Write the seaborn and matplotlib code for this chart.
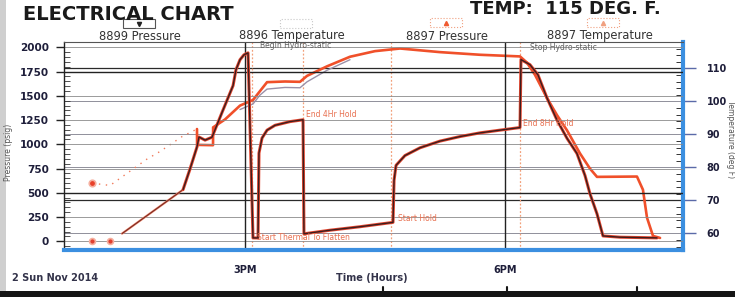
import matplotlib
matplotlib.use("Agg")
import matplotlib.pyplot as plt
import matplotlib.patheffects as pe
from matplotlib.patches import Rectangle
from matplotlib.lines import Line2D
from matplotlib.ticker import FixedLocator, MultipleLocator
import seaborn as sns

# ---------------- data ----------------
series_names = ["8899 Pressure", "8896 Temperature", "8897 Pressure", "8897 Temperature"]

# isolated start readings of the pressure recorder (hours, psi)
p_start_time = [13.235, 13.443]
p_start_psi = [0, 0]

pressure_time = [13.581, 14.285, 14.366, 14.446, 14.469, 14.539, 14.619, 14.735, 14.862, 14.896,
                 14.942, 14.988, 15.035, 15.092, 15.150, 15.161, 15.196, 15.254, 15.346, 15.519,
                 15.669, 15.680, 15.980, 16.326, 16.707, 16.719, 16.742, 16.845, 17.018, 17.249,
                 17.480, 17.711, 17.941, 18.172, 18.183, 18.287, 18.379, 18.483, 18.599, 18.714,
                 18.829, 18.922, 18.979, 19.060, 19.129, 19.325, 19.752]
pressure_psi = [79, 532, 747, 973, 1075, 1043, 1073, 1329, 1605, 1770,
                1872, 1923, 1943, 35, 34, 910, 1064, 1146, 1196, 1234,
                1253, 77, 114, 150, 195, 628, 783, 884, 964, 1033,
                1080, 1118, 1146, 1173, 1874, 1821, 1716, 1478, 1249, 1062,
                905, 677, 490, 283, 55, 42, 35]

# temperature, dotted lead-in (hours, deg F)
temp_lead_time = [13.235, 13.443, 13.870, 14.020, 14.273, 14.446]
temp_lead_f = [75.2, 74.5, 82.5, 84.8, 89.3, 91.6]

temp_time = [14.446, 14.447, 14.631, 14.632, 14.769, 14.942, 15.092, 15.173, 15.254, 15.461,
             15.634, 15.715, 15.946, 16.211, 16.499, 16.788, 17.249, 17.711, 18.172, 18.253,
             18.345, 18.483, 18.599, 18.714, 18.864, 18.979, 19.060, 19.521, 19.590, 19.637,
             19.706, 19.787]
temp_f = [91.6, 86.8, 86.7, 92.1, 94.5, 98.7, 100.4, 103.1, 105.8, 106.0,
          105.9, 107.7, 110.6, 113.5, 115.2, 116.0, 114.9, 114.1, 113.6, 111.7,
          108.0, 101.0, 95.8, 91.2, 84.2, 79.6, 77.1, 77.2, 73.2, 64.7,
          59.2, 58.6]

temp2_time = [14.942, 15.092, 15.173, 15.254, 15.461, 15.634, 15.715, 15.946, 16.211]
temp2_f = [97.5, 99.2, 101.9, 103.7, 104.2, 104.1, 105.9, 109.4, 112.6]

event_times = [15.081, 15.669, 16.684, 18.172]

ann_text = ["Begin Hydro-static", "End 4Hr Hold", "Start Hold",
            "Start Thermal To Flatten", "End 8Hr Hold", "Stop Hydro-static"]
ann_time = [15.17, 15.70, 16.76, 15.14, 18.21, 18.29]
ann_psi = [2015, 1308, 232, 43, 1219, 1999]
ann_dark = [True, False, False, False, False, True]

psi_ticks = [0, 250, 500, 750, 1000, 1250, 1500, 1750, 2000]
psi_labels = ["0", "250", "500", "750", "1000", "1250", "1500", "1750", "2000"]
temp_ticks = [60, 70, 80, 90, 100, 110]
time_ticks = [15, 18]
time_labels = ["3PM", "6PM"]
hour_minor = [13, 14, 16, 17, 19, 20]

# ---------------- figure ----------------
sns.set_theme(style="white")
plt.rcParams["font.family"] = ["DejaVu Sans"]

W, H = 735, 297
fig = plt.figure(figsize=(W / 100, H / 100), dpi=100)
fig.patch.set_facecolor("white")


def fx(x):
    return x / W


def fy(y):
    return 1 - y / H


L, R, T, B = 64, 683, 42, 250
ax = fig.add_axes([fx(L), fy(B), (R - L) / W, (B - T) / H])
ax2 = ax.twinx()
ax.set_zorder(ax2.get_zorder() + 1)
ax.patch.set_visible(False)

ax.set_xlim(12.912, 20.052)
ax.set_ylim(-90, 2055)
ax2.set_ylim(54.94, 117.97)

# grids
for v in psi_ticks:
    dark = v in (500, 1750)
    ax.axhline(v, color="#222222" if dark else "#8a8a8a", lw=1.0 if dark else 0.6, zorder=0)
for v in temp_ticks:
    dark = v in (70, 110)
    ax2.axhline(v, color="#2a2a2a" if dark else "#7d7d8a", lw=0.9 if dark else 0.6, zorder=0)
for t in time_ticks:
    ax.axvline(t, color="#222222", lw=1.0, zorder=1)
for t in event_times:
    ax2.axvline(t, color="#f2a07a", lw=0.9, ls=(0, (1.5, 1.5)), zorder=1)

# temperature series (right axis)
sns.lineplot(x=temp_lead_time, y=temp_lead_f, ax=ax2, sort=False, estimator=None,
             color="#f07a5a", lw=1.0, linestyle=(0, (1, 4)))
sns.lineplot(x=temp2_time, y=temp2_f, ax=ax2, sort=False, estimator=None,
             color="#9a90a8", lw=1.0)
sns.lineplot(x=temp_time, y=temp_f, ax=ax2, sort=False, estimator=None,
             color="#f0502a", lw=1.9)
sns.scatterplot(x=temp_lead_time[:1], y=temp_lead_f[:1], ax=ax2, color="#e8402a",
                s=22, edgecolor="#f5b0a0", linewidth=1.2, zorder=5)

# pressure series (left axis)
sns.lineplot(x=pressure_time[:2], y=pressure_psi[:2], ax=ax, sort=False, estimator=None,
             color="#7a2a22", lw=0.8)
ax.lines[-1].set_path_effects([pe.Stroke(linewidth=1.6, foreground="#f08a70"), pe.Normal()])
sns.lineplot(x=pressure_time[1:], y=pressure_psi[1:], ax=ax, sort=False, estimator=None,
             color="#3a1e1e", lw=1.0)
ax.lines[-1].set_path_effects([pe.Stroke(linewidth=2.2, foreground="#e4452e"), pe.Normal()])
sns.scatterplot(x=p_start_time, y=p_start_psi, ax=ax, color="#e04030", s=18,
                edgecolor="#f5b0a0", linewidth=1.2, zorder=5)

# annotations
for txt, t, p, dk in zip(ann_text, ann_time, ann_psi, ann_dark):
    ax.text(t, p, txt, fontsize=5.5, color="#606060" if dk else "#e87050",
            ha="left", va="center", zorder=6)

# spines
for s in ["left", "top", "right", "bottom"]:
    ax2.spines[s].set_visible(False)
ax.spines["right"].set_visible(False)
ax.spines["left"].set_color("#222222")
ax.spines["left"].set_linewidth(1.0)
ax.spines["top"].set_color("#555555")
ax.spines["top"].set_linewidth(0.8)
ax.spines["bottom"].set_color("#3b8fe0")
ax.spines["bottom"].set_linewidth(3.0)
ax2.spines["right"].set_visible(True)
ax2.spines["right"].set_color("#3b8fe0")
ax2.spines["right"].set_linewidth(3.0)

# ticks
ax.set_yticks(psi_ticks)
ax.set_yticklabels(psi_labels, fontweight="bold", fontsize=7.5, color="#1e1e3a")
ax.yaxis.set_minor_locator(MultipleLocator(50))
ax.tick_params(axis="y", which="major", direction="out", length=6, width=1, color="#222222", pad=5)
ax.tick_params(axis="y", which="minor", direction="in", length=4, width=0.6, color="#333333")

ax.set_xticks(time_ticks)
ax.set_xticklabels(time_labels, fontweight="bold", fontsize=7, color="#1e1e3a")
ax.xaxis.set_minor_locator(FixedLocator(hour_minor))
ax.tick_params(axis="x", which="major", direction="out", length=9, width=1, color="#222222", pad=2)
ax.tick_params(axis="x", which="minor", direction="in", length=3, width=0.8, color="#333333")

ax2.set_yticks(temp_ticks)
ax2.set_yticklabels([str(v) for v in temp_ticks], fontweight="bold", fontsize=7, color="#1e1e3a")
ax2.yaxis.set_minor_locator(MultipleLocator(2))
ax2.tick_params(axis="y", which="major", direction="out", length=9, width=1, color="#5a6aa8", pad=8)
ax2.tick_params(axis="y", which="minor", direction="in", length=5, width=0.7, color="#333333")

ax.set_xlabel("")
ax.set_ylabel("")
ax2.set_ylabel("")

# axis titles
fig.text(fx(9), fy(152), "Pressure (psig)", rotation=90, fontsize=5.5, color="#555555",
         ha="center", va="center")
fig.text(fx(731), fy(139), "Temperature (deg F)", rotation=270, fontsize=5.5, color="#555555",
         ha="center", va="center")
fig.text(fx(372), fy(278), "Time (Hours)", fontsize=7, fontweight="bold", color="#33334a",
         ha="center", va="center")
fig.text(fx(12), fy(278), "2 Sun Nov 2014", fontsize=7, fontweight="bold", color="#33334a",
         ha="left", va="center")

# titles
fig.text(fx(23), fy(14), "ELECTRICAL CHART", fontsize=14, fontweight="bold", color="#1a1a1a",
         ha="left", va="center")
fig.text(fx(470), fy(9), "TEMP:  115 DEG. F.", fontsize=13, fontweight="bold", color="#1a1a1a",
         ha="left", va="center")

# legend labels above plot
leg_x = [140, 292, 447, 600]
for name, x in zip(series_names, leg_x):
    fig.text(fx(x), fy(36), name, fontsize=8.3, color="#333333", ha="center", va="center")

boxes = [(123, 19, "#555555", "-", "v", "#222222"),
         (280, 19, "#c8c8c8", ":", None, None),
         (430, 18, "#f0a080", ":", "^", "#f05a30"),
         (587, 18, "#f0a080", ":", "^", "#f0a080")]
for bx, by, ec, ls, mk, mc in boxes:
    fig.add_artist(Rectangle((fx(bx), fy(by + 9)), 32 / W, 9 / H, transform=fig.transFigure,
                             fill=False, edgecolor=ec, lw=0.8, linestyle=ls))
    if mk:
        fig.add_artist(Line2D([fx(bx + 16)], [fy(by + 4.5)], transform=fig.transFigure,
                              marker=mk, markersize=3, color=mc, lw=0))

# scan edges
fig.add_artist(Rectangle((0, 0), 6 / W, 1, transform=fig.transFigure, color="#cfcfcf", lw=0))
fig.add_artist(Rectangle((0, 0), 1, 6 / H, transform=fig.transFigure, color="#151515", lw=0))
for xx in [383, 507, 637]:
    fig.add_artist(Line2D([fx(xx), fx(xx)], [fy(297), fy(287)], transform=fig.transFigure,
                          color="#151515", lw=1.5))

fig.savefig("out.png", dpi=100, facecolor="white")
